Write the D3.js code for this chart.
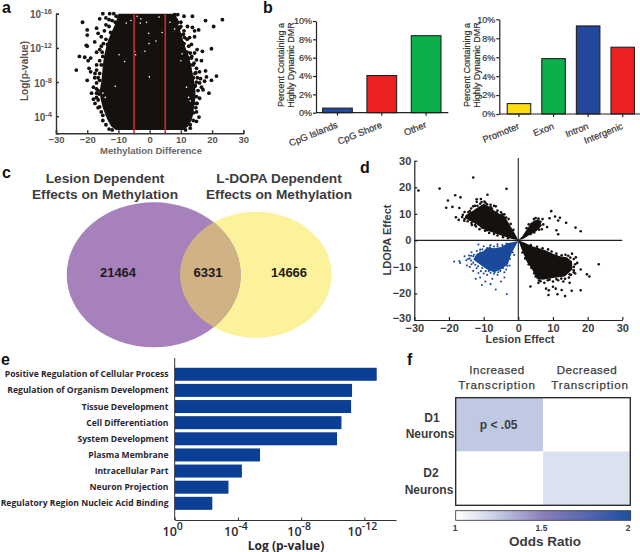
<!DOCTYPE html>
<html><head><meta charset="utf-8">
<script src="https://cdnjs.cloudflare.com/ajax/libs/d3/7.8.5/d3.min.js"></script>
<style>html,body{margin:0;padding:0;background:#fff}svg{display:block}text{font-family:"Liberation Sans",Arial,sans-serif}</style>
</head><body><svg id="c" width="640" height="552"></svg>
<script>
// ---- panel a data: [exponent, left difference, right difference] of the solid mass
const volcanoMass=[[2.4,-10.8,10.8],[2.8,-12.3,12.3],[3.5,-13.4,13.4],[4,-14,13.8],[5,-15,14.2],[6,-15.7,14.6],[7,-16,14.7],[8,-15.5,14.3],[9,-15.2,13.8],[10,-15,13.2],[11,-14.6,12.6],[12,-14,11.5],[13,-13.2,10.6],[14,-12,9.8],[15,-10.8,9],[16,-10,8.4]];
const volcanoSparse=[[23.3,15.3],[20.5,14.5],[17.9,15.2],[13.7,15.7],[11,15.7],[15.7,14.1],[14.4,14],[13.7,14.4],[12.1,14.5],[11,14],[14.4,13.3],[12.8,13.2],[11.2,13.2],[10.5,12.6],[13.4,12.4],[19.8,11.9],[16.9,11.6],[15.2,11.8],[14.4,11.4],[13.4,10.8],[16.6,10.5],[15,10.6],[13.9,10],[15,9.6],[12.8,9.6],[17.9,9.3],[16,9.2],[21.4,8.7],[18.2,8.6],[19.8,8.2],[17.6,8.1],[16.3,8.4],[16,7.9],[16.6,7.4],[19,6.7],[17.1,7.1],[15,6.3],[16,6.1],[15.8,3.9],[15,3.4],[14.6,7.6],[15.3,8.5],[14.8,9.1],[10,15],[9,15.9],[8,15.9],[9.5,14.3],[10.2,13.5],[13,11.4],[12.5,12.2],[14,5.5],[14.8,5],[14,4.4],
[13,3],[14,3.5],[13,2.6],[11.5,2.4],[15,4.5],[15,5.5],[15.5,7],[15,8],[14.5,9],[13.5,11],[12,13],[11,12.5],[10,14.5],[9,15],[8.5,15.3],[12,11.5],[13,10],[14,8.5],[14,6.5],[14.5,7.5],[15.2,5.5],[14.2,10.2],[12.6,10.8],[10.8,13.6],
[-21.5,15],[-20,14.1],[-20,13.5],[-20.3,12.3],[-20,12.2],[-22.5,11],[-20.8,10.9],[-19.7,10.5],[-23.5,9.4],[-18.9,10.8],[-19.4,9.6],[-18.9,9.2],[-20,8.2],[-17,10],[-17,9.4],[-17.6,8.5],[-17,7.9],[-18,7.4],[-18.6,6.7],[-17,6.7],[-16.5,5.9],[-16,5.1],[-15,4.1],[-17.6,12.7],[-16.5,13.7],[-17,14.3],[-16,15.4],[-15,16],[-12.8,16],[-10.7,15.7],[-17,11.5],[-15.5,13.3],[-16,11.8],[-14,14.7],[-13,15.3],[-14.8,12.5],[-15.5,12.2],[-17.5,9],[-16.5,8.5],[-18,6],[-17.5,5.5],[-16.5,7],[-14,15.5],
[-13,14.5],[-12.5,13.8],[-14,13],[-13.5,12.4],[-15,11],[-15.5,10],[-16,9],[-16,8.2],[-17,7.2],[-17,6.2],[-16.5,5],[-15.5,4.5],[-15,3.5],[-14,3],[-13,2.5],[-12,2.4],[-11,15],[-12,15.2],[-11.5,16],[-14.5,14],[-15.2,11.5],[-16,10.5],[-16.2,6.6]];
const volcanoGaps=[[-2.8,15.4],[-3,14.9],[-7.5,14.9],[-6,15.2],[-1,15],[-0.3,13.7],[-0.2,12.5],[-4.5,11.2],[-4.8,11.6],[-1.5,11.6],[2,12.8],[4,13.8],[-9.8,11.2],[-8,10.4],[6.5,15],[8,14.2],[-0.1,8.6],[10.4,11.3],[10,10.5],[-11,7.5],[-14.2,6.2],[-15,6.7],[13,5.8],[11.8,7.4],[-4,15.7],[3,15.6],[12.5,6.2]];
const volcanoCutoffs=[-5,5];
const volcanoTicksX=[-30,-20,-10,0,10,20,30];
const volcanoTicksY=[4,8,12,16];

// ---- panel b data
const regionCats=["CpG Islands","CpG Shore","Other"];
const regionVals=[0.5,4.05,8.4];
const regionCols=["#23479b","#ed2024","#0bb04b"];
const featureCats=["Promoter","Exon","Intron","Intergenic"];
const featureVals=[1.1,5.85,9.3,7.05];
const featureCols=["#fbdb14","#0bb04b","#23479b","#ed2024"];
const pctTicks=[0,2,4,6,8,10];

// ---- panel c data
const vennCounts=[21464,6331,14666];

// ---- panel d data: outlines of the solid clouds and the individually visible dots
const cloudUL=[[0,0],[-1,2.6],[-1.8,4.4],[-3,7],[-4.1,9.4],[-5.5,10],[-7,11.2],[-8.5,12.8],[-10,13.8],[-11.5,12.6],[-13,11.2],[-15,9.6],[-15.5,8.4],[-12,6],[-10,4.2],[-8,3.2],[-5,1.8],[-2,0.6]];
const cloudLR=[[0,0],[2,-1],[4,-2.2],[6,-3],[8,-3.8],[10,-5],[12,-6],[14,-6.4],[15.5,-8],[15.6,-11],[13.4,-13.6],[10,-14.2],[7,-14.8],[5.4,-14.6],[4,-11],[2.4,-8],[1,-3.4]];
const cloudUR=[[0,0],[1.2,1.6],[2,3.2],[3.2,5.6],[4.4,7.4],[6,8],[6.8,5.5],[5.2,3.4],[3,1.8],[1.5,0.6]];
const cloudBlue=[[0,-0.2],[-2,-0.8],[-3,-1],[-5,-2.5],[-7,-3],[-9,-2.6],[-10,-4],[-12,-5],[-13,-7.2],[-11,-9.2],[-9,-11],[-7,-12],[-5,-11],[-3,-9],[-2,-5],[-1,-2.6]];
const dotsBlack=[[-28.8,18.8],[-22.7,19.5],[-13,23.7],[-3.4,19.4],[-20.3,15],[-18.2,17],[-16.7,16.2],[-8.9,17.2],[-20.8,12.3],[-19,12.6],[-17,12.2],[-18,8.7],[-17.2,7.7],[-12,15.5],[-12,14.5],[-10.8,15.6],[-15.5,10.7],[-14,11],[-15,9],[-14,8],[-13.5,6.5],[-12.5,13],[-7,13],[-6.5,12.8],[-8,12.5],[-9.5,14.2],[-11,13.8],[-12,11.5],[-15.5,8],[-12.5,5.8],[-10.5,4.8],[-9,3.8],[-4,9.8],[-5.2,9.3],[-6.3,10.5],[-3.5,8.6],
[-13.6,12],[-14.4,10.6],[-13,12.8],[-11.8,13],[-10.6,14.4],[-9.8,14.6],[-9,13.6],[-8,13.4],[-7.6,12],[-6,11.2],[-5,10.6],[-15.6,7.4],[-14.6,7.2],[-13.4,5.8],[-12.2,5.2],[-11.2,4.2],[-9.6,3.6],[-8.4,2.8],[-7,2.4],[-6,1.8],[-4.4,1.2],[-3,0.8],[-2.8,8],[-2.2,6.2],[-1.4,4],[-4.6,9.8],[-16.2,8.8],[-16,9.6],
[9.5,11],[10.6,9],[9,8.3],[12,8.5],[11.5,7.5],[13.8,6.6],[16.5,4.8],[18,3.4],[8.3,5],[11,3.8],[11.5,2.3],[7,8],[4.5,8],[5.8,8.2],[7.2,6],[6.8,4.2],[3.8,6.2],[3,6],[2.4,4.6],[5,8.4],[6.4,7],[6,4],[4.6,3],[3.6,2.4],
[23.2,-9],[19.8,-12.8],[20.5,-13.6],[18,-11],[18,-18.8],[15.4,-19],[13.5,-21],[11.3,-20.3],[8.7,-20.6],[8,-18.2],[8.8,-18.8],[10,-17.5],[10.8,-18.2],[12.5,-18.7],[3.5,-17.4],[15.5,-5],[16,-7],[17,-8.5],[16,-10],[16.4,-12.5],[15.2,-13],[14.8,-16],[13,-15.5],[11.5,-15],[10,-15.5],[7.5,-16],[6,-15],[5.8,-16],[13.5,-14.5],[12.5,-5.6],[13.6,-5.4],[15,-6.5],[8.5,-15],[16,-11.3],
[16.4,-9],[16.6,-6.4],[14.4,-5.8],[11,-5],[9.6,-4.2],[8.6,-3.4],[7,-3],[5.4,-2.4],[3.6,-1.8],[14.6,-14],[12.4,-14.4],[9,-14.8],[6.4,-15.4],[5,-13.6],[4.6,-12.4],[3.8,-10.4],[3,-9],[2,-6.8],[1.2,-4.6],[16,-12],[14.8,-12.8],[11,-14.6]];
const dotsBlue=[[-3.3,-20.2],[-6.5,-18.5],[-10.5,-16.8],[-8,-16.5],[-9.5,-15.5],[-12.3,-14.5],[-11,-14],[-5,-15.5],[-7.5,-14.5],[-4,-14],[-18.5,-8],[-17,-7.8],[-16.8,-8.5],[-15.5,-6],[-15,-7.5],[-14.8,-9.5],[-13,-6],[-14.2,-5.7],[-13.5,-9],[-14,-10],[-12,-10.5],[-13,-11.5],[-11.5,-12.3],[-10.8,-11.6],[-10,-12.5],[-9,-13],[-8.5,-11.5],[-6.8,-12],[-6,-13],[-5.2,-11.5],[-4,-12],[-3.5,-11],[-2.5,-9.5],[-1.2,-5.5],[-11.5,-1.6],[-10,-2.2],[-8,-1.8],[-11,-3.5],[-12,-4],[-14.5,-7],[-9,-3],[-7,-2.3],[-6,-1.5],[-13.5,-4.5],
[-13.6,-7.6],[-13,-8.4],[-12.4,-9.2],[-11.6,-9.8],[-10.4,-10.4],[-9.4,-11.6],[-8,-12.2],[-7,-12.6],[-5.8,-12],[-4.4,-10.4],[-3.2,-9.6],[-2.4,-7],[-1.6,-4.6],[-12.8,-5.4],[-11,-4.6],[-10.4,-3.4],[-8.2,-2.6],[-6,-2.2],[-4.6,-1.8],[-3.4,-1.2],[-14,-6.8],[-13.6,-5.8]];
const scatterTicks=[-30,-20,-10,0,10,20,30];

// ---- panel e data
const goTerms=["Positive Regulation of Cellular Process","Regulation of Organism Development","Tissue Development","Cell Differentiation","System Development","Plasma Membrane","Intracellular Part","Neuron Projection","Regulatory Region Nucleic Acid Binding"];
const goVals=[12.78,11.22,11.16,10.55,10.27,5.4,4.25,3.4,2.38];
const goTicks=[0,4,8,12];

// ---- panel f data
const heatCols=["Increased Transcription","Decreased Transcription"];
const heatRows=["D1 Neurons","D2 Neurons"];
const heatVals=[[1.25,1],[1,1.15]];
const oddsStops=[1,1.15,1.25,1.5,2];
const oddsColors=["#ffffff","#dce1ef","#c0c9e2","#8a7dba","#1e4fa3"];
const oddsTicks=[1,1.5,2];

const svg=d3.select("#c");
const INK="#3c3c3e";
function txt(p,x,y,s,o={}){const t=p.append("text").attr("x",x).attr("y",y).text(s)
 .attr("font-size",o.size||10).attr("font-weight",o.weight||"bold").attr("fill",o.fill||INK).attr("text-anchor",o.anchor||"middle");
 if(o.rot!==undefined)t.attr("transform",`rotate(${o.rot} ${x} ${y})`);
 if(o.family)t.style("font-family",o.family);
 if(o.ls)t.attr("letter-spacing",o.ls);
 return t;}
function styleAxis(g,w=1.4,col="#333"){g.selectAll("path,line").attr("stroke",col).attr("stroke-width",w);g.selectAll("text").attr("fill",INK).attr("font-weight","bold");}
[["a",2,13],["b",263,13],["c",2,178],["d",360,173],["e",1,365],["f",407,365]].forEach(d=>txt(svg,d[1],d[2],d[0],{anchor:"start",size:16,fill:"#111"}));

// ---------- a
{const x=d3.scaleLinear().domain([-30,30]).range([56,243.3]);
 const y=d3.scaleLinear().domain([2,16]).range([133.3,13.7]);
 const g=svg.append("g");
 const area=d3.area().x0(d=>x(d[1])).x1(d=>x(d[2])).y(d=>y(d[0])).curve(d3.curveLinear);
 g.append("path").datum(volcanoMass).attr("d",area).attr("fill","#15110f");
 g.selectAll("circle.s").data(volcanoSparse).join("circle").attr("cx",d=>x(d[0])).attr("cy",d=>y(d[1])).attr("r",1.9).attr("fill","#15110f");
 g.selectAll("circle.g").data(volcanoGaps).join("circle").attr("class","g").attr("cx",d=>x(d[0])).attr("cy",d=>y(d[1])).attr("r",0.8).attr("fill","#fff");
 g.selectAll("line.r").data(volcanoCutoffs).join("line").attr("x1",d=>x(d)).attr("x2",d=>x(d)).attr("y1",y(16)).attr("y2",y(2)).attr("stroke","#d8232a").attr("stroke-width",1.6);
 const ax=svg.append("g").attr("transform","translate(0,133.3)").call(d3.axisBottom(x).tickValues(volcanoTicksX).tickSizeOuter(0).tickSize(-3).tickPadding(3));
 styleAxis(ax);ax.selectAll("text").attr("font-size",9.5).attr("fill","#555");
 const ay=svg.append("g").attr("transform","translate(56,0)").call(d3.axisLeft(y).tickValues(volcanoTicksY).tickSizeOuter(0).tickSize(-3).tickFormat(""));
 styleAxis(ay);
 volcanoTicksY.forEach(e=>{const t=txt(svg,52,y(e)+4.5,"10",{anchor:"end",size:10,fill:"#555"});t.append("tspan").attr("dy",-4).attr("font-size",7.5).text("-"+e);});
 txt(svg,28,71,"Log(p-value)",{rot:-90,size:10,fill:"#555"});
 txt(svg,151,154,"Methylation Difference",{size:9.5,fill:"#666"});
}
// ---------- b
function bars(cats,vals,cols,left,zero,top,r0,r1,pad,yLabelX){
 const x=d3.scaleBand().domain(cats).range([r0,r1]).paddingInner(pad).paddingOuter(pad/2);
 const y=d3.scaleLinear().domain([0,10]).range([zero,top]);
 svg.append("g").selectAll("rect").data(cats).join("rect").attr("x",d=>x(d)).attr("width",x.bandwidth()).attr("y",(d,i)=>y(vals[i])).attr("height",(d,i)=>zero-y(vals[i])).attr("fill",(d,i)=>cols[i]).attr("stroke","#222").attr("stroke-width",1.1);
 const ax=svg.append("g").attr("transform",`translate(0,${zero})`).call(d3.axisBottom(x).tickSize(3).tickSizeOuter(0).tickFormat(""));
 styleAxis(ax,1.2,"#222");
 ax.select("path").attr("d",`M${left},0H${r1}`);
 const ay=svg.append("g").attr("transform",`translate(${left},0)`).call(d3.axisLeft(y).tickValues(pctTicks).tickSize(3).tickSizeOuter(0).tickPadding(1).tickFormat(d=>d+"%"));
 styleAxis(ay,1.2,"#222");ay.selectAll("text").attr("font-size",9).attr("font-weight","normal").attr("stroke","#333").attr("stroke-width",.2);
 cats.forEach(c=>{const X=x(c)+x.bandwidth()/2+1,Y=zero+14.5;txt(svg,X,Y,c,{anchor:"end",size:9.4,weight:"normal",rot:-22,fill:"#333"}).attr("stroke","#333").attr("stroke-width",.2);});
 txt(svg,yLabelX,65,"Percent Containing a",{rot:-90,size:9,weight:"normal",fill:"#333"}).attr("stroke","#333").attr("stroke-width",.2);
 txt(svg,yLabelX+10,65,"Highly Dynamic DMR",{rot:-90,size:9,weight:"normal",fill:"#333"}).attr("stroke","#333").attr("stroke-width",.2);
}
bars(regionCats,regionVals,regionCols,316,112.7,21,315.3,448.3,0.33,284);
bars(featureCats,featureVals,featureCols,499.3,114,19.3,501.7,640,0.32,470);
// ---------- c
{const left={cx:153.7,cy:274.8,rx:87,ry:72.5},right={cx:255.8,cy:274.7,rx:75.8,ry:63};
 const el=(p,e,f)=>p.append("ellipse").attr("cx",e.cx).attr("cy",e.cy).attr("rx",e.rx).attr("ry",e.ry).attr("fill",f);
 el(svg,right,"#fbf29b");el(svg,left,"#a781bb");
 const cp=svg.append("defs").append("clipPath").attr("id","vc");el(cp,left,"#000");
 el(svg.append("g").attr("clip-path","url(#vc)"),right,"#d0b284");
 [118,208,289].forEach((X,i)=>txt(svg,X,277,vennCounts[i],{size:13,fill:"#231a20"}));
 [["Lesion Dependent",105,182.7],["Effects on Methylation",105,199],["L-DOPA Dependent",279,182.7],["Effects on Methylation",279,199]].forEach(d=>txt(svg,d[1],d[2],d[0],{size:13.7}));
}
// ---------- d
{const x=d3.scaleLinear().domain([-30,30]).range([414.3,622.3]);
 const y=d3.scaleLinear().domain([-30,30]).range([320,160.7]);
 const ln=d3.line().x(d=>x(d[0])).y(d=>y(d[1])).curve(d3.curveLinearClosed);
 [[cloudUL,"#15110f"],[cloudUR,"#15110f"],[cloudLR,"#15110f"],[cloudBlue,"#1b4a9c"]].forEach(c=>svg.append("path").datum(c[0]).attr("d",ln).attr("fill",c[1]));
 svg.append("g").selectAll("circle").data(dotsBlack).join("circle").attr("cx",d=>x(d[0])).attr("cy",d=>y(d[1])).attr("r",1.3).attr("fill","#15110f");
 svg.append("g").selectAll("circle").data(dotsBlue).join("circle").attr("cx",d=>x(d[0])).attr("cy",d=>y(d[1])).attr("r",1.05).attr("fill","#1b4a9c");
 svg.append("line").attr("x1",x(-30)).attr("x2",x(30)).attr("y1",y(0)).attr("y2",y(0)).attr("stroke","#222").attr("stroke-width",1.1);
 svg.append("line").attr("x1",x(0)).attr("x2",x(0)).attr("y1",158).attr("y2",y(-30)).attr("stroke","#222").attr("stroke-width",1.1);
 const ax=svg.append("g").attr("transform","translate(0,320)").call(d3.axisBottom(x).tickValues(scatterTicks).tickSize(-3).tickSizeOuter(0).tickPadding(4));
 styleAxis(ax,1.2,"#222");ax.selectAll("text").attr("font-size",11);
 const ay=svg.append("g").attr("transform","translate(414.3,0)").call(d3.axisLeft(y).tickValues(scatterTicks).tickSize(-3).tickSizeOuter(0).tickPadding(3));
 styleAxis(ay,1.2,"#222");ay.selectAll("text").attr("font-size",11);
 ay.selectAll("text").filter(d=>d===-30).attr("dy","0.1em");
 txt(svg,520,343,"Lesion Effect",{size:11});
 txt(svg,390.5,240,"LDOPA Effect",{rot:-90,size:11});
}
// ---------- e
{const x=d3.scaleLinear().domain([0,14]).range([174.7,396]);
 const y=d3.scaleBand().domain(goTerms).range([366.2,511.4]).paddingInner(0.194).paddingOuter(0.097);
 svg.append("g").selectAll("rect").data(goTerms).join("rect").attr("x",x(0)).attr("y",d=>y(d)).attr("height",y.bandwidth()).attr("width",(d,i)=>x(goVals[i])-x(0)).attr("fill","#0b3f96");
 const ff='"Open Sans",sans-serif';
 goTerms.forEach(d=>txt(svg,168.5,y(d)+y.bandwidth()/2+3,d,{anchor:"end",size:8.6,fill:"#2b2730",family:ff}));
 const ax=svg.append("g").attr("transform","translate(0,520)").call(d3.axisBottom(x).tickValues(goTicks).tickSize(-2.5).tickSizeOuter(0).tickFormat(""));
 styleAxis(ax,1,"#333");
 svg.append("line").attr("x1",x(0)).attr("x2",x(0)).attr("y1",358).attr("y2",520).attr("stroke","#333").attr("stroke-width",1);
 goTicks.forEach(e=>{const t=txt(svg,x(e)-2,535.5,"10",{size:12.5,fill:"#2b2730",family:ff,weight:600});t.append("tspan").attr("dy",-6).attr("font-size",10.5).text(e?"-"+e:"0");});
 txt(svg,286,549.5,"Log (p-value)",{size:12,fill:"#2b2730",family:ff});
}
// ---------- f
{const x=d3.scaleBand().domain(heatCols).range([455.7,630.3]);
 const y=d3.scaleBand().domain(heatRows).range([397.7,505.3]);
 const col=d3.scaleLinear().domain(oddsStops).range(oddsColors);
 heatRows.forEach((r,i)=>heatCols.forEach((c,j)=>svg.append("rect").attr("x",x(c)).attr("y",y(r)).attr("width",x.bandwidth()).attr("height",y.bandwidth()).attr("fill",col(heatVals[i][j]))));
 svg.append("rect").attr("x",455.7).attr("y",397.7).attr("width",174.6).attr("height",107.6).attr("fill","none").attr("stroke","#222").attr("stroke-width",1.3);
 txt(svg,498.7,429,"p < .05",{size:12});
 [[497,"Increased"],[587,"Decreased"]].forEach(d=>txt(svg,d[0],374,d[1],{size:11.6,weight:"normal",ls:.5}).attr("stroke",INK).attr("stroke-width",.25));
 [497,590].forEach(X=>txt(svg,X,389,"Transcription",{size:11.6,weight:"normal",ls:.85}).attr("stroke",INK).attr("stroke-width",.25));
 [["D1",432,421.7],["Neurons",430,438],["D2",431,477],["Neurons",429,494]].forEach(d=>txt(svg,d[1],d[2],d[0],{size:12}));
 const grad=svg.select("defs").append("linearGradient").attr("id","od");
 const sc=d3.scaleLinear().domain([1,2]).range([0,100]);
 oddsStops.forEach((s,i)=>grad.append("stop").attr("offset",sc(s)+"%").attr("stop-color",oddsColors[i]));
 svg.append("rect").attr("x",455.7).attr("y",510.7).attr("width",175).attr("height",9.6).attr("fill","url(#od)").attr("stroke","#333").attr("stroke-width",.8);
 const lx=d3.scaleLinear().domain([1,2]).range([455,628]);
 oddsTicks.forEach(t=>txt(svg,lx(t),530.5,t,{size:8.5}));
 txt(svg,545,546,"Odds Ratio",{size:13.5});
}
</script></body></html>
